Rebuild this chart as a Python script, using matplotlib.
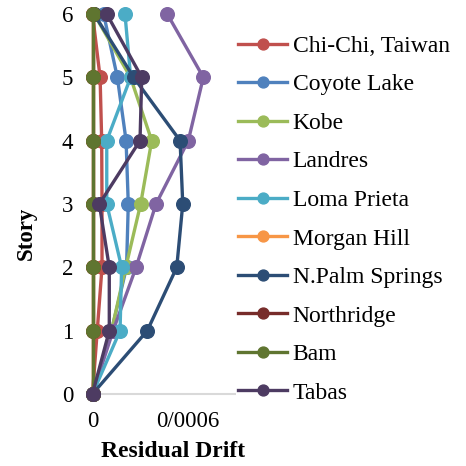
import numpy as np
import matplotlib.pyplot as plt
from matplotlib.ticker import FixedLocator, FixedFormatter

plt.rcParams['font.family'] = ['Liberation Serif', 'DejaVu Serif']

# Data
stories = [0, 1, 2, 3, 4, 5, 6]
chi_chi = [0, 0.00003, 0.00006, 0.00006, 0.000058, 0.000048, 0]
coyote_lake = [0, 0.00012, 0.000215, 0.000226, 0.000212, 0.000157, 0.00007]
kobe = [0, 0.00012, 0.00021, 0.000304, 0.000374, 0.00024, 0.00001]
landres = [0, 0.00013, 0.000275, 0.000401, 0.000605, 0.0007, 0.000472]
loma_prieta = [0, 0.000174, 0.000184, 0.00009, 0.00009, 0.000241, 0.000205]
morgan_hill = [0, 0, 0, 0, 0, 0, 0]
n_palm_springs = [0, 0.000346, 0.000532, 0.00057, 0.000553, 0.00026, 0.00001]
northridge = [0, 0, 0, 0, 0, 0, 0]
bam = [0, 0, 0, 0, 0, 0, 0]
tabas = [0, 0.000106, 0.000106, 0.000043, 0.0003, 0.000311, 0.00009]

series_names = ['Chi-Chi, Taiwan', 'Coyote Lake', 'Kobe', 'Landres', 'Loma Prieta',
                'Morgan Hill', 'N.Palm Springs', 'Northridge', 'Bam', 'Tabas']
series_values = [chi_chi, coyote_lake, kobe, landres, loma_prieta,
                 morgan_hill, n_palm_springs, northridge, bam, tabas]
series_colors = ['#C0504D', '#4F81BD', '#9BBB59', '#8064A2', '#4BACC6',
                 '#F79646', '#2C4D75', '#772C2A', '#5F7530', '#4D3B62']

x_ticks = [0, 0.0006]
x_tick_labels = ['0', '0/0006']

fig = plt.figure(figsize=(4.66, 4.66), dpi=100)
ax = fig.add_axes([0.1985, 0.1545, 0.3466, 0.8155])
ax_w = 0.3466 * 466
ax_h = 0.8155 * 466

for name, values, color in zip(series_names, series_values, series_colors):
    ax.plot(values, stories, color=color, linewidth=2.4, marker='o', markersize=9.8,
            label=name, clip_on=False)

ax.set_xlim(0, 0.00102)
ax.set_ylim(0, 6)
ax.xaxis.set_major_locator(FixedLocator(x_ticks))
ax.xaxis.set_major_formatter(FixedFormatter(x_tick_labels))
ax.set_yticks(stories)
ax.tick_params(axis='both', length=0, labelsize=16.5)
ax.tick_params(axis='y', pad=14)
ax.tick_params(axis='x', pad=12)

for side in ['top', 'right', 'left']:
    ax.spines[side].set_visible(False)
ax.spines['bottom'].set_color('#D9D9D9')
ax.spines['bottom'].set_linewidth(1.5)
ax.spines['bottom'].set_zorder(0)

# axis titles placed in pixel terms relative to the plot area
ax.set_xlabel('Residual Drift', fontsize=17, fontweight='bold')
ax.set_ylabel('Story', fontsize=16.5, fontweight='bold')
ax.yaxis.set_label_coords((37 - 92.5) / ax_w, 1 - (233 - 14) / ax_h)
ax.xaxis.set_label_coords((173 - 92.5) / ax_w, -(441 - 394) / ax_h)

leg = fig.legend(loc='upper left', bbox_to_anchor=(236 / 466, 1 - 33 / 466),
                 fontsize=17, frameon=True, facecolor='white', edgecolor='none',
                 framealpha=1, borderpad=0.1, labelspacing=0.72, handlelength=2.05,
                 handletextpad=0.25, markerscale=0.8, borderaxespad=0)
leg.set_zorder(5)

fig.savefig('out.png', dpi=100)
